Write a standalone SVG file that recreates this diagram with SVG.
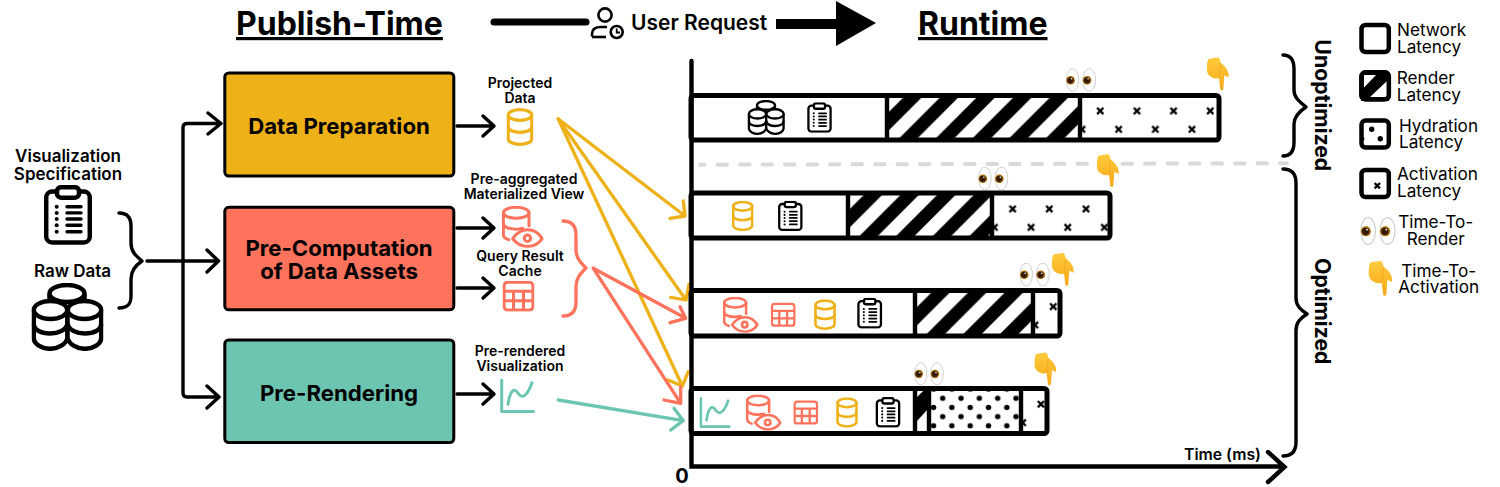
<svg xmlns="http://www.w3.org/2000/svg" xmlns:xlink="http://www.w3.org/1999/xlink" width="1500" height="487" viewBox="0 0 1500 487">
<style>
text{font-family:Inter,"Liberation Sans",sans-serif;fill:#000}
.h{font-size:32px;font-weight:700;text-decoration:underline}
.box{stroke:#000;stroke-width:3;rx:4px}
.bt{font-size:22.2px;font-weight:700;text-anchor:middle}
.l{font-size:14px;font-weight:600;text-anchor:middle}
.m{font-size:17px;font-weight:600;text-anchor:middle}
.lg{font-size:17.2px;font-weight:400}
.lgc{font-size:17.2px;font-weight:400;text-anchor:middle}
.rot{font-size:21.3px;font-weight:700}
.k{fill:none;stroke:#000;stroke-width:3.4;stroke-linecap:round;stroke-linejoin:round}
.y{fill:none;stroke:#EFB118;stroke-width:3.3;stroke-linecap:round;stroke-linejoin:round}
.r{fill:none;stroke:#FF725C;stroke-width:3.3;stroke-linecap:round;stroke-linejoin:round}
.g{fill:none;stroke:#6CC5B0;stroke-width:3.3;stroke-linecap:round;stroke-linejoin:round}
.bar{fill:none;stroke:#000;stroke-width:5;rx:3px}
.div{stroke:#000;stroke-width:4.4}
.lb{fill:#fff;stroke:#000;stroke-width:4.5;rx:4px}
.cy{color:#EFB118}.cr{color:#FF725C}.cg{color:#6CC5B0}.ck{color:#000}
</style>
<defs>
<linearGradient id="hg" x1="0" y1="0" x2="0" y2="1"><stop offset="0" stop-color="#FFCB3D"/><stop offset="1" stop-color="#F8A818"/></linearGradient>
<symbol id="clip" viewBox="0 0 48 60">
<rect x="2.2" y="6.5" width="43.6" height="51" rx="6" fill="#fff" stroke="#000" stroke-width="4.5"/>
<rect x="13" y="2.2" width="22" height="10.5" rx="4" fill="#fff" stroke="#000" stroke-width="4.5"/>
<g fill="#000"><circle cx="12.7" cy="21.7" r="2"/><circle cx="12.7" cy="27.9" r="2"/><circle cx="12.7" cy="34" r="2"/><circle cx="12.7" cy="40.3" r="2"/><circle cx="12.7" cy="46.7" r="2"/></g>
<path d="M23 21.7H37M23 27.9H37M23 34H37M23 40.3H37M23 46.7H37" stroke="#000" stroke-width="3.4" stroke-linecap="round"/>
</symbol>
<symbol id="cyl3" viewBox="0 0 72 68">
<g fill="#fff" stroke="#000" stroke-width="4.5" stroke-linejoin="round">
<ellipse cx="35.5" cy="10.5" rx="17.5" ry="8.5"/>
<path d="M18 11V24M53 11V24" fill="none"/>
<path d="M2.3 27V55C2.3 61 10 65.8 18.5 65.8S34.5 61 36 55V27Z"/><path d="M36 27V55C37.5 61 45 65.8 53.5 65.8S69.7 61 69.7 55V27Z"/>
<ellipse cx="19" cy="27" rx="16.7" ry="9"/><ellipse cx="53" cy="27" rx="16.7" ry="9"/>
<path d="M2.3 41C2.3 47 10 50.5 18.5 50.5S34.5 47 36 41C37.5 47 45 50.5 53.5 50.5S69.7 47 69.7 41" fill="none"/>
</g>
</symbol>
<symbol id="cyl" viewBox="0 0 27 38">
<g fill="none" stroke="currentColor" stroke-width="3.2" stroke-linecap="round">
<ellipse cx="13.5" cy="7" rx="11.8" ry="5.4"/>
<path d="M1.7 7V31C1.7 34 7 36.4 13.5 36.4S25.3 34 25.3 31V7"/>
<path d="M1.7 19C1.7 22 7 24.4 13.5 24.4S25.3 22 25.3 19"/>
</g>
</symbol>
<symbol id="cyleye" viewBox="0 0 42 42">
<g fill="none" stroke="#FF725C" stroke-width="3" stroke-linecap="round" stroke-linejoin="round">
<ellipse cx="14.5" cy="7" rx="12.8" ry="5.5"/>
<path d="M1.7 7V29C1.7 31 4 33 7 34"/><path d="M27.3 7V20"/>
<path d="M1.7 18C1.7 21 7 23.5 14.5 23.5C17 23.5 19 23.2 21 22.5"/>
<path d="M11 33C15 27 20 24 26 24C32 24 37 27 40.5 33C37 38 32 40.8 26 40.8C20 40.8 15 38 11 33Z" fill="#fff"/>
<circle cx="25.7" cy="32.6" r="3.2"/>
</g>
</symbol>
<symbol id="table" viewBox="0 0 32 31">
<g fill="none" stroke="#FF725C" stroke-width="3" stroke-linejoin="round">
<rect x="1.6" y="1.6" width="28.8" height="27.8" rx="3.5"/>
<path d="M1.6 10.5H30.4M1.6 20H30.4M11 10.5V29.4M21 10.5V29.4"/>
</g>
</symbol>
<symbol id="chart" viewBox="0 0 35 35">
<g fill="none" stroke="#6CC5B0" stroke-width="3" stroke-linecap="round" stroke-linejoin="round">
<path d="M1.7 1.7V33.3H33.5"/>
<path d="M8 26C9 17 12 11 15 12C18 13 19 18 22 18C26 18 30 11 32 4.5"/>
</g>
</symbol>
<symbol id="eyes" viewBox="0 0 30 24">
<g fill="#fff" stroke="#c9c9c9" stroke-width=".9"><ellipse cx="6.6" cy="12" rx="6.2" ry="11.4"/><ellipse cx="23.2" cy="12" rx="6.4" ry="11.4"/></g>
<circle cx="4.6" cy="12.3" r="4.3" fill="#a86c00"/><circle cx="21.1" cy="12.3" r="4.3" fill="#a86c00"/>
<circle cx="4.4" cy="12.3" r="3.1" fill="#331a00"/><circle cx="20.9" cy="12.3" r="3.1" fill="#331a00"/>
<circle cx="5.6" cy="10.8" r=".8" fill="#fff"/><circle cx="22.1" cy="10.8" r=".8" fill="#fff"/>
</symbol>
<symbol id="hand" viewBox="0 0 67 100">
<path d="M5 5L34 0C39 3 41 10 42 17C50 22 57 29 61 37C65 44 67 52 66 60L53 54L50 94C49 99 46 100 44 99C41 98 41 95 40.500 92L37 62C30 65 22 64 15 60C6 55 1 48 0 38C0 26 1 14 5 5Z" fill="url(#hg)"/>
<path d="M37 62C37 50 41 36 42 17" fill="none" stroke="#E8930F" stroke-width="1.4"/>
</symbol>
<pattern id="st" width="36.67" height="36.67" patternUnits="userSpaceOnUse">
<rect width="36.67" height="36.67" fill="#fff"/>
<path d="M0 0H18.33L0 18.33ZM36.67 0V18.33L18.33 36.67H0Z" fill="#000"/>
</pattern>
<pattern id="st1" href="#st" xlink:href="#st" patternTransform="translate(1000.8 0)"/>
<pattern id="st2" href="#st" xlink:href="#st" patternTransform="translate(1058.8 0)"/>
<pattern id="st3" href="#st" xlink:href="#st" patternTransform="translate(1224 0)"/>
<pattern id="xs" width="36.67" height="36.67" patternUnits="userSpaceOnUse">
<rect width="36.67" height="36.67" fill="#fff"/>
<path d="M6 6L12.3 12.300M12.3 6L6 12.300M24.400 24.400L30.700 30.700M30.700 24.400L24.400 30.700" stroke="#000" stroke-width="2.3"/>
</pattern>
<pattern id="xs1" href="#xs" xlink:href="#xs" patternTransform="translate(1091.1 101.8)"/>
<pattern id="xs2" href="#xs" xlink:href="#xs" patternTransform="translate(1003.5 199.8)"/>
<pattern id="xs3" href="#xs" xlink:href="#xs" patternTransform="translate(1044.1 297.5)"/>
<pattern id="xs4" href="#xs" xlink:href="#xs" patternTransform="translate(1031.8 395.1)"/>
<pattern id="dots" width="18.33" height="18.33" patternUnits="userSpaceOnUse" patternTransform="translate(942.7 398.3)">
<rect width="18.33" height="18.33" fill="#fff"/>
<g fill="#000"><circle cx="0" cy="0" r="2.7"/><circle cx="18.33" cy="0" r="2.7"/><circle cx="0" cy="18.33" r="2.7"/><circle cx="18.33" cy="18.33" r="2.7"/><circle cx="9.17" cy="9.17" r="2.7"/></g>
</pattern>
</defs>

<g id="headers">
<text class="h" x="236" y="35">Publish-Time</text>
<text class="h" x="918" y="35">Runtime</text>
</g>
<g id="user-request">
<path d="M494 22H586" stroke="#000" stroke-width="7" stroke-linecap="round"/>
<circle cx="605" cy="15" r="6.6" fill="none" stroke="#000" stroke-width="2.6"/>
<path d="M592 36.500V34C592 29 596 27 601 27H607" fill="none" stroke="#000" stroke-width="2.6"/>
<path d="M592 37H606" fill="none" stroke="#000" stroke-width="2.6"/>
<circle cx="616.7" cy="32" r="6" fill="#fff" stroke="#000" stroke-width="2.6"/>
<path d="M616.7 28.500V32.500H620" fill="none" stroke="#000" stroke-width="1.8"/>
<text x="631" y="30" font-size="21" font-weight="600">User Request</text>
<path d="M776 19H836V1L876 23L836 46V29H776Z" fill="#000"/>
</g>

<g id="connectors">
<path class="k" d="M119 213C128 213 131 218 131 226V243C131 252 136 256 142 261C136 265 131 270 131 279V296C131 304 128 308 119 308"/>
<path class="k" d="M147 261H217M207 250L218.500 261L207 272"/>
<path class="k" d="M220 123.500H187Q183 123.500 183 127.500V393Q183 397 187 397H219M208 113L221 123.500L208 134M207 386L219 397L207 408"/>
<path class="k" d="M457 126H493M483 116L494 126L483 136"/>
<path class="k" d="M457 228H493M483 218L494 228L483 238"/>
<path class="k" d="M457 288H493M483 278L494 288L483 298"/>
<path class="k" d="M457 394H493M483 384L494 394L483 404"/>
<path class="r" stroke-width="4" d="M563 221C572 221 576 226 576 235V250C576 258 581 263 586 268C581 273 576 278 576 286V302C576 311 572 316 563 316"/>
<path class="y" d="M558.300 119L685 216M670 218.300L685 216L683.300 201"/>
<path class="y" d="M558.300 119L686 300M670.700 297.300L686 300L689 284.300"/>
<path class="y" d="M558.300 119L682.300 386M668 380L682.300 386L688.300 371.700"/>
<path class="r" d="M593.300 268.300L685.700 318.300M670 322.700L685.700 318.300L680 306.700"/>
<path class="r" d="M593.300 268.300L680.700 403.300M664 400L680.700 403.300L680.700 386.700"/>
<path class="g" d="M558.300 400L683.300 420.700M670.700 430L683.300 420.700L674 408.300"/>
<path d="M700 164.700L1287 163.300" fill="none" stroke="#d9d9d9" stroke-width="4" stroke-linecap="round" stroke-dasharray="9.500 13" stroke-dashoffset="5"/>
<path class="k" stroke-width="4.500" d="M1283 55C1291 55 1294 60 1294 69V90C1294 98 1300 102 1306 107C1300 111 1294 116 1294 124V142C1294 151 1291 156 1283 156"/>
<path class="k" stroke-width="4.500" d="M1283 169C1292 169 1296 174 1296 183V298C1296 306 1301 310 1307 314C1301 318 1296 322 1296 330V442C1296 451 1292 456 1283 456"/>
</g>

<g id="inputs">
<text class="m" x="68" y="162">Visualization</text>
<text class="m" x="68" y="180">Specification</text>
<use href="#clip" xlink:href="#clip" x="44" y="185" width="48" height="60"/>
<text class="m" x="72.500" y="276.700">Raw Data</text>
<use href="#cyl3" xlink:href="#cyl3" x="31.500" y="283" width="72" height="68"/>
</g>

<g id="node-data-preparation">
<rect class="box" x="224.800" y="73" width="229" height="103" fill="#EFB118"/>
<text class="bt" x="339" y="133.500">Data Preparation</text>
</g>
<g id="node-pre-computation">
<rect class="box" x="224.800" y="207.300" width="229" height="102.500" fill="#FF725C"/>
<text class="bt" x="339" y="256">Pre-Computation</text>
<text class="bt" x="339" y="279">of Data Assets</text>
</g>
<g id="node-pre-rendering">
<rect class="box" x="224.800" y="340" width="229" height="102.500" fill="#6CC5B0"/>
<text class="bt" x="339" y="401">Pre-Rendering</text>
</g>

<g id="asset-projected-data">
<text class="l" x="520" y="87.700">Projected</text>
<text class="l" x="520" y="102.700">Data</text>
<use class="cy" href="#cyl" xlink:href="#cyl" x="506.500" y="108" width="27" height="38"/>
</g>
<g id="asset-materialized-view">
<text class="l" x="524" y="184">Pre-aggregated</text>
<text class="l" x="524" y="199">Materialized View</text>
<use href="#cyleye" xlink:href="#cyleye" x="501.700" y="205.700" width="42" height="42"/>
</g>
<g id="asset-query-cache">
<text class="l" x="520" y="261">Query Result</text>
<text class="l" x="520" y="276">Cache</text>
<use href="#table" xlink:href="#table" x="502.500" y="280.700" width="32" height="31"/>
</g>
<g id="asset-pre-rendered">
<text class="l" x="520" y="356">Pre-rendered</text>
<text class="l" x="520" y="370.700">Visualization</text>
<use href="#chart" xlink:href="#chart" x="500" y="378.300" width="35" height="35"/>
</g>

<g id="bar-unoptimized">
<rect x="692" y="95.500" width="195" height="44.500" fill="#fff"/>
<rect x="887" y="95.500" width="193" height="44.500" fill="url(#st1)"/>
<rect x="1080" y="95.500" width="139" height="44.500" fill="url(#xs1)"/>
<path class="div" d="M887 95.500V140M1080 95.500V140"/>
<rect class="bar" x="691" y="95.500" width="528" height="44.500"/>
<use href="#cyl3" xlink:href="#cyl3" x="746.500" y="100" width="39.500" height="35"/>
<use href="#clip" xlink:href="#clip" x="806.500" y="102.300" width="26" height="30.500"/>
<use href="#eyes" xlink:href="#eyes" x="1066" y="68" width="30" height="24"/>
<use href="#hand" xlink:href="#hand" x="1206.700" y="57.300" width="22.300" height="33.400"/>
</g>
<g id="bar-optimized-1">
<rect x="692" y="193" width="156" height="45" fill="#fff"/>
<rect x="848" y="193" width="144" height="45" fill="url(#st2)"/>
<rect x="992" y="193" width="118" height="45" fill="url(#xs2)"/>
<path class="div" d="M848 193V238M992 193V238"/>
<rect class="bar" x="691" y="193" width="419" height="45"/>
<use class="cy" href="#cyl" xlink:href="#cyl" x="731.700" y="200.700" width="22" height="30.500"/>
<use href="#clip" xlink:href="#clip" x="777.300" y="200.700" width="26" height="30.500"/>
<use href="#eyes" xlink:href="#eyes" x="978" y="166.500" width="30.500" height="24"/>
<use href="#hand" xlink:href="#hand" x="1096.700" y="154" width="22.300" height="33.400"/>
</g>
<g id="bar-optimized-2">
<rect x="692" y="290.500" width="223" height="45.500" fill="#fff"/>
<rect x="915" y="290.500" width="118" height="45.500" fill="url(#st3)"/>
<rect x="1033" y="290.500" width="27" height="45.500" fill="url(#xs3)"/>
<path class="div" d="M915 290.500V336M1033 290.500V336"/>
<rect class="bar" x="691" y="290.500" width="369" height="45.500"/>
<use href="#cyleye" xlink:href="#cyleye" x="722.700" y="296.700" width="36" height="36"/>
<use href="#table" xlink:href="#table" x="770.700" y="302.300" width="25" height="25"/>
<use class="cy" href="#cyl" xlink:href="#cyl" x="814" y="299.300" width="22" height="30.700"/>
<use href="#clip" xlink:href="#clip" x="856.700" y="297.700" width="26" height="31"/>
<use href="#eyes" xlink:href="#eyes" x="1019.300" y="262.500" width="30.700" height="24"/>
<use href="#hand" xlink:href="#hand" x="1051.700" y="252.700" width="22.300" height="33.400"/>
</g>
<g id="bar-optimized-3">
<rect x="692" y="388.500" width="223" height="45" fill="#fff"/>
<rect x="915" y="388.500" width="14" height="45" fill="#fff"/>
<path d="M917 397L923.300 391H927V410L917 421Z" fill="#000"/>
<rect x="929" y="388.500" width="92" height="45" fill="url(#dots)"/>
<rect x="1021" y="388.500" width="26" height="45" fill="url(#xs4)"/>
<path class="div" d="M915 388.500V433.500M929 388.500V433.500M1021 388.500V433.500"/>
<rect class="bar" x="691" y="388.500" width="356" height="45"/>
<use href="#chart" xlink:href="#chart" x="699.300" y="396.700" width="31.500" height="31.500"/>
<use href="#cyleye" xlink:href="#cyleye" x="745.700" y="394.300" width="36" height="36.400"/>
<use href="#table" xlink:href="#table" x="793.300" y="400" width="25" height="25"/>
<use class="cy" href="#cyl" xlink:href="#cyl" x="836" y="397.300" width="22" height="30.400"/>
<use href="#clip" xlink:href="#clip" x="875" y="397" width="26" height="30.700"/>
<use href="#eyes" xlink:href="#eyes" x="914" y="362" width="30" height="23.500"/>
<use href="#hand" xlink:href="#hand" x="1034.300" y="352.300" width="22.300" height="33.400"/>
</g>

<g id="axes">
<path d="M691.500 61V466.500H1284M1268 452L1284.500 467L1268 482" fill="none" stroke="#000" stroke-width="4.400" stroke-linecap="round" stroke-linejoin="miter"/>
<text x="1184" y="460" font-size="15.800" font-weight="600">Time (ms)</text>
<text x="682" y="483" font-size="20" font-weight="700" text-anchor="middle">0</text>
</g>

<g id="group-labels">
<text class="rot" transform="translate(1315 39.300) rotate(90)">Unoptimized</text>
<text class="rot" transform="translate(1315 258) rotate(90)">Optimized</text>
</g>

<g id="legend">
<g id="legend-network"><rect class="lb" x="1361.500" y="25" width="27.300" height="27"/>
<text class="lg" x="1397" y="36">Network</text><text class="lg" x="1397" y="53.300">Latency</text></g>
<g id="legend-render"><rect class="lb" x="1361.500" y="72.300" width="27.300" height="27"/>
<path d="M1361 72H1389V101H1361Z" fill="#000"/>
<path d="M1364 75H1376L1364 87.500ZM1387 81V98H1369Z" fill="#fff"/>
<rect class="lb" style="fill:none" x="1361.500" y="72.300" width="27.300" height="27"/>
<text class="lg" x="1396.700" y="84">Render</text><text class="lg" x="1396.700" y="101">Latency</text></g>
<g id="legend-hydration"><rect class="lb" x="1361.500" y="120.600" width="27.300" height="27"/>
<circle cx="1371.700" cy="129.300" r="2.700"/><circle cx="1380.300" cy="138.700" r="2.700"/><circle cx="1380.300" cy="120.500" r="2"/><circle cx="1362.500" cy="138.700" r="2"/>
<text class="lg" x="1399" y="131.700">Hydration</text><text class="lg" x="1399" y="148.300">Latency</text></g>
<g id="legend-activation"><rect class="lb" x="1361.500" y="170" width="27.300" height="27"/>
<path d="M1374.600 183L1380 188.400M1380 183L1374.600 188.400" stroke="#000" stroke-width="2.300"/>
<text class="lg" x="1397" y="180">Activation</text><text class="lg" x="1397" y="196.700">Latency</text></g>
<g id="legend-ttr"><use href="#eyes" xlink:href="#eyes" x="1360" y="217" width="36" height="28"/>
<text class="lgc" x="1435.700" y="228">Time-To-</text><text class="lgc" x="1435.700" y="245">Render</text></g>
<g id="legend-tta"><use href="#hand" xlink:href="#hand" x="1368.300" y="260.700" width="24.400" height="35.500"/>
<text class="lgc" x="1438.700" y="276.700">Time-To-</text><text class="lgc" x="1438.700" y="293.300">Activation</text></g>
</g>
</svg>
